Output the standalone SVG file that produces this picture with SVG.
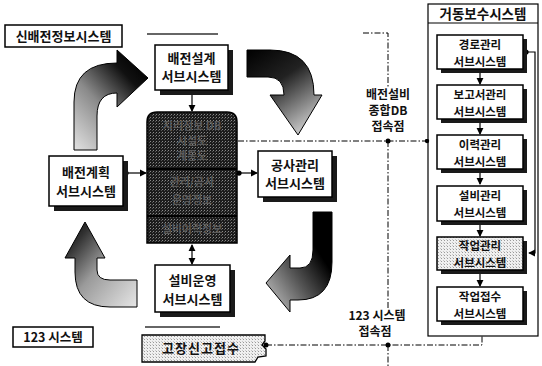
<svg xmlns="http://www.w3.org/2000/svg" width="542" height="366" viewBox="0 0 542 366">
<defs>
<style>
.t{font-family:"Noto Sans CJK KR","Noto Sans",sans-serif;font-weight:bold;fill:#111;text-anchor:middle}
.r{font-size:11.5px}
.b{fill:#fff;stroke:#000;stroke-width:1.5}
.sh{fill:#1a1a1a}
.ln{fill:none;stroke:#000;stroke-width:1.2}
.dd{fill:none;stroke:#000;stroke-width:1;stroke-dasharray:6 2 1.5 2}
.gl{fill:none;stroke:#333;stroke-width:1.5}
.db{font-family:"Noto Sans CJK KR","Noto Sans",sans-serif;font-weight:bold;fill:#5a5a5a;text-anchor:middle;font-size:11px}
</style>
<marker id="ar" viewBox="0 0 8 8" refX="7" refY="4" markerWidth="6" markerHeight="6" orient="auto-start-reverse"><path d="M0,0 L8,4 L0,8 Z" fill="#000"/></marker>
<marker id="dt" viewBox="0 0 8 8" refX="4" refY="4" markerWidth="5" markerHeight="5"><circle cx="4" cy="4" r="3.5" fill="#000"/></marker>
<pattern id="stip" width="3" height="3" patternUnits="userSpaceOnUse"><rect width="3" height="3" fill="#1c1c1c"/><rect x="0" y="0" width="1" height="1" fill="#8a8a8a"/><rect x="2" y="1" width="1" height="1" fill="#555"/></pattern>
<pattern id="lstip" width="3" height="3" patternUnits="userSpaceOnUse"><rect width="3" height="3" fill="#f0f0f0"/><rect x="0" y="0" width="1" height="1" fill="#9a9a9a"/><rect x="2" y="2" width="1" height="1" fill="#c8c8c8"/></pattern>
<linearGradient id="g1" x1="0" y1="1" x2="0.8" y2="0"><stop offset="0" stop-color="#e2e2e2"/><stop offset="0.45" stop-color="#8a8a8a"/><stop offset="0.8" stop-color="#111"/><stop offset="1" stop-color="#000"/></linearGradient>
<linearGradient id="g2" x1="0" y1="0" x2="0.6" y2="1"><stop offset="0" stop-color="#000"/><stop offset="0.45" stop-color="#222"/><stop offset="1" stop-color="#c0c0c0"/></linearGradient>
<linearGradient id="g3" x1="1" y1="0" x2="0" y2="1"><stop offset="0" stop-color="#000"/><stop offset="0.3" stop-color="#000"/><stop offset="0.6" stop-color="#555"/><stop offset="1" stop-color="#cfcfcf"/></linearGradient>
<linearGradient id="g4" x1="0" y1="0" x2="1" y2="1"><stop offset="0" stop-color="#000"/><stop offset="0.2" stop-color="#333"/><stop offset="0.5" stop-color="#9a9a9a"/><stop offset="1" stop-color="#e6e6e6"/></linearGradient>
</defs>
<rect width="542" height="366" fill="#fff"/>

<!-- big cycle arrows -->
<g id="cycle-arrows" stroke="#000" stroke-width="1">
<path d="M74,150 L74,102 Q74,63 117,63 L117,50 L148,78 L117,107 L117,93 Q97,93 97,116 L97,150 Z" fill="url(#g1)"/>
<path d="M247,50 L270,50 Q314,50 314,95 L322,95 L298,135 L270,95 L284,95 Q284,77 268,77 L247,77 Z" fill="url(#g2)"/>
<path d="M313,212 L332,212 L332,262 Q332,300 298,300 L290,300 L290,312 L266,283 L290,255 L290,268 L300,268 Q313,268 313,250 Z" fill="url(#g3)"/>
<path d="M65,258 L85,222 L105,258 L97,258 L97,270 Q97,280 110,280 L137,280 L137,307 L110,307 Q75,307 75,272 L75,258 Z" fill="url(#g4)"/>
</g>

<!-- labels -->
<g id="label-new">
<rect x="5" y="25" width="117" height="22" class="b"/>
<text x="63.5" y="41" class="t" font-size="13">신배전정보시스템</text>
</g>
<g id="label-123">
<rect x="13" y="327" width="80" height="20" class="b"/>
<text x="53" y="342" class="t" font-size="12.5">123 시스템</text>
</g>
<line x1="147" y1="34" x2="218" y2="34" class="gl"/>
<line x1="145" y1="327" x2="220" y2="327" class="gl"/>

<!-- connectors -->
<g id="connectors">
<line x1="192" y1="91" x2="192" y2="111" class="ln" marker-end="url(#ar)"/>
<line x1="126" y1="173" x2="146" y2="173" class="ln" marker-start="url(#dt)" marker-end="url(#ar)"/>
<line x1="239" y1="173" x2="257" y2="173" class="ln" marker-start="url(#dt)" marker-end="url(#ar)"/>
<line x1="192" y1="245" x2="192" y2="264" class="ln" marker-start="url(#ar)" marker-end="url(#ar)"/>
<line x1="238" y1="141" x2="427" y2="141" class="dd" marker-end="url(#dt)"/>
<circle cx="388" cy="141" r="2.5" fill="#000"/>
<polyline points="363,33 388,33 388,88" class="dd"/>
<line x1="388" y1="141" x2="388" y2="308" class="dd"/>
<line x1="388" y1="345" x2="388" y2="366" class="dd"/>
<polyline points="266,345 482,345 482,336" class="dd"/>
<circle cx="266" cy="345" r="2.5" fill="#000"/>
<circle cx="388" cy="345" r="2.5" fill="#000"/>
<line x1="480" y1="70" x2="480" y2="84" class="ln" marker-end="url(#ar)"/>
<line x1="480" y1="120" x2="480" y2="134" class="ln" marker-end="url(#ar)"/>
<line x1="480" y1="170" x2="480" y2="184" class="ln" marker-end="url(#ar)"/>
<line x1="480" y1="222" x2="480" y2="236" class="ln" marker-end="url(#ar)"/>
<line x1="480" y1="272" x2="480" y2="286" class="ln" marker-end="url(#ar)"/>
<polyline points="526,52 535,52 535,253 529,253" class="ln" marker-start="url(#dt)" marker-end="url(#ar)"/>
</g>

<!-- DB cylinder -->
<g id="db">
<path d="M147,243 L147,122 Q147,112 157,112 L227,112 Q237,112 237,122 L237,243 Z" fill="url(#stip)" stroke="#000" stroke-width="1.5"/>
<line x1="147" y1="169" x2="237" y2="169" stroke="#000" stroke-width="2"/>
<line x1="147" y1="216" x2="237" y2="216" stroke="#000" stroke-width="2"/>
<text x="192" y="130" class="db">지리정보 DB</text>
<text x="192" y="145" class="db">시설도</text>
<text x="192" y="160" class="db">계통도</text>
<text x="192" y="186" class="db">관리/공사</text>
<text x="192" y="204" class="db">운영정보</text>
<text x="192" y="233" class="db">설비이력정보</text>
</g>

<!-- main subsystem boxes -->
<g id="design">
<rect x="160" y="50" width="73" height="45" class="sh"/>
<rect x="155" y="45" width="73" height="45" class="b"/>
<text x="191.5" y="63" class="t" font-size="13">배전설계</text>
<text x="191.5" y="81" class="t" font-size="13">서브시스템</text>
</g>
<g id="plan">
<rect x="54" y="161" width="74" height="50" class="sh"/>
<rect x="49" y="156" width="74" height="50" class="b"/>
<text x="86" y="177" class="t" font-size="13">배전계획</text>
<text x="86" y="196" class="t" font-size="13">서브시스템</text>
</g>
<g id="construction">
<rect x="263" y="156" width="74" height="46" class="sh"/>
<rect x="258" y="151" width="74" height="46" class="b"/>
<text x="295" y="170" class="t" font-size="13">공사관리</text>
<text x="295" y="188" class="t" font-size="13">서브시스템</text>
</g>
<g id="operation">
<rect x="160" y="270" width="75" height="47" class="sh"/>
<rect x="155" y="265" width="75" height="47" class="b"/>
<text x="192.5" y="285" class="t" font-size="13">설비운영</text>
<text x="192.5" y="304" class="t" font-size="13">서브시스템</text>
</g>
<g id="fault">
<path d="M142,335 L265,335 L265,341 L262,345 L266,349 L266,356 L258,357 L255,362 L142,362 Z" fill="url(#lstip)" stroke="#000" stroke-width="1.3"/>
<text x="201" y="353" class="t" font-size="13" letter-spacing="1">고장신고접수</text>
</g>

<!-- junction labels -->
<g id="jp-db">
<text x="388" y="99" class="t" font-size="12">배전설비</text>
<text x="388" y="115" class="t" font-size="12">종합DB</text>
<text x="388" y="131" class="t" font-size="12">접속점</text>
</g>
<g id="jp-123">
<text x="377" y="320" class="t" font-size="12">123 시스템</text>
<text x="375" y="336" class="t" font-size="12">접속점</text>
</g>

<!-- maintenance system frame -->
<g id="maint">
<rect x="428" y="4" width="110" height="332" fill="none" stroke="#000" stroke-width="1.2"/>
<line x1="428" y1="23" x2="538" y2="23" stroke="#000" stroke-width="1.2"/>
<text x="483" y="18.5" class="t" font-size="13.5">거동보수시스템</text>
</g>
<g id="route">
<rect x="441" y="39" width="86" height="34" class="sh"/>
<rect x="437" y="35" width="86" height="34" class="b"/>
<text x="480" y="48.5" class="t r">경로관리</text>
<text x="480" y="65.5" class="t r">서브시스템</text>
</g>
<g id="report">
<rect x="441" y="89" width="86" height="34" class="sh"/>
<rect x="437" y="85" width="86" height="34" class="b"/>
<text x="480" y="98.5" class="t r">보고서관리</text>
<text x="480" y="115.5" class="t r">서브시스템</text>
</g>
<g id="history">
<rect x="441" y="139" width="86" height="34" class="sh"/>
<rect x="437" y="135" width="86" height="34" class="b"/>
<text x="480" y="148.5" class="t r">이력관리</text>
<text x="480" y="165.5" class="t r">서브시스템</text>
</g>
<g id="facility">
<rect x="441" y="190" width="86" height="35" class="sh"/>
<rect x="437" y="186" width="86" height="35" class="b"/>
<text x="480" y="200" class="t r">설비관리</text>
<text x="480" y="217" class="t r">서브시스템</text>
</g>
<g id="work">
<rect x="441" y="241" width="86" height="33" class="sh"/>
<rect x="437" y="237" width="86" height="33" fill="url(#lstip)" stroke="#000" stroke-width="1.5"/>
<text x="480" y="250" class="t r">작업관리</text>
<text x="480" y="267" class="t r">서브시스템</text>
</g>
<g id="receipt">
<rect x="441" y="291" width="86" height="34" class="sh"/>
<rect x="437" y="287" width="86" height="34" class="b"/>
<text x="480" y="300.5" class="t r">작업접수</text>
<text x="480" y="317.5" class="t r">서브시스템</text>
</g>
</svg>
